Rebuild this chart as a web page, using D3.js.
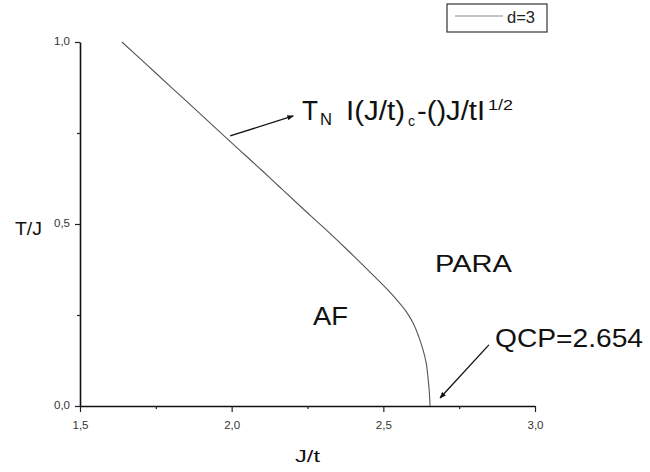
<!DOCTYPE html>
<html>
<head>
<meta charset="utf-8">
<script src="https://cdn.jsdelivr.net/npm/d3@7"></script>
<style>
  html, body { margin: 0; padding: 0; background: #fff; }
  svg { display: block; font-family: "Liberation Sans", Arial, sans-serif; }
</style>
</head>
<body>
<svg id="chart" width="650" height="472"></svg>
<script>
// Néel temperature boundary T_N(J/t) for d=3
const jt = [1.638, 1.70, 1.80, 1.90, 2.00, 2.10, 2.159, 2.23, 2.301, 2.38, 2.456, 2.51, 2.545, 2.575, 2.598, 2.617, 2.631, 2.642, 2.647, 2.651, 2.654];
const tj = [1.000, 0.953, 0.876, 0.800, 0.723, 0.647, 0.601, 0.546, 0.492, 0.430, 0.368, 0.323, 0.291, 0.260, 0.228, 0.190, 0.154, 0.115, 0.080, 0.045, 0.000];

const xTicks = [1.5, 2.0, 2.5, 3.0];
const xMinor = [1.75, 2.25, 2.75];
const yTicks = [0.0, 0.5, 1.0];
const yMinor = [0.25, 0.75];
const qcp = 2.654;
const seriesName = "d=3";

const fmt = d => d3.format(".1f")(d).replace(".", ",");

const svg = d3.select("#chart");
const x = d3.scaleLinear().domain([1.5, 3.0]).range([80, 535]);
const y = d3.scaleLinear().domain([0, 1]).range([406, 42]);

// axes
const xAxis = svg.append("g").attr("transform", `translate(0,${y(0)})`)
  .call(d3.axisBottom(x).tickValues(xTicks).tickFormat(fmt).tickSize(6).tickSizeOuter(0));
svg.append("g").attr("transform", `translate(0,${y(0)})`)
  .call(d3.axisBottom(x).tickValues(xMinor).tickFormat("").tickSize(3).tickSizeOuter(0))
  .select(".domain").remove();
const yAxis = svg.append("g").attr("transform", `translate(${x(1.5)},0)`)
  .call(d3.axisLeft(y).tickValues(yTicks).tickFormat(fmt).tickSize(5).tickSizeOuter(0));
svg.append("g").attr("transform", `translate(${x(1.5)},0)`)
  .call(d3.axisLeft(y).tickValues(yMinor).tickFormat("").tickSize(3).tickSizeOuter(0))
  .select(".domain").remove();

svg.selectAll(".domain").attr("stroke", "#111").attr("stroke-width", 1.6);
svg.selectAll(".tick line").attr("stroke", "#222").attr("stroke-width", 1.2);
svg.selectAll(".tick text").attr("fill", "#333").style("font-size", "11.5px")
  .style("font-family", "'Liberation Sans', Arial, sans-serif");
xAxis.selectAll(".tick text").attr("dy", "1.2em");
yAxis.selectAll(".tick text").attr("x", -10).attr("dy", "0.25em");

// phase boundary curve
const line = d3.line().x((d, i) => x(jt[i])).y((d, i) => y(tj[i])).curve(d3.curveMonotoneY);
svg.append("path").datum(jt).attr("d", line)
  .attr("fill", "none").attr("stroke", "#555").attr("stroke-width", 1.1);

// text helper: font size from cap height, width fitted with textLength
function label(parent, txt, px, py, size, len) {
  const t = parent.append("text").attr("x", px).attr("y", py)
    .style("font-size", size + "px").attr("fill", "#111").text(txt);
  if (len) t.attr("textLength", len).attr("lengthAdjust", "spacingAndGlyphs");
  return t;
}

// axis titles
label(svg, "J/t", 295, 462, 17, 25);
label(svg, "T/J", 15, 235, 18, 27);

// region labels
label(svg, "PARA", 435, 272, 24, 77);
label(svg, "AF", 313, 325, 25, 35);
label(svg, "QCP=" + d3.format(".3f")(qcp), 495, 347, 26, 148);

// T_N scaling annotation
const ann = svg.append("g");
label(ann, "T", 302, 120, 27, 16);
label(ann, "N", 320, 125, 16, 12);
label(ann, "I(J/t)", 346, 120, 27, 59);
label(ann, "c", 408, 126, 15, 7);
label(ann, "-()J/tI", 417, 120, 27, 68);
label(ann, "1/2", 488, 110, 15, 25);

// arrows
const defs = svg.append("defs");
defs.append("marker").attr("id", "ah").attr("viewBox", "0 0 10 10").attr("refX", 9).attr("refY", 5)
  .attr("markerWidth", 5).attr("markerHeight", 5).attr("orient", "auto")
  .append("path").attr("d", "M0,1 L10,5 L0,9 Z").attr("fill", "#111");
svg.append("line").attr("x1", x(1.995)).attr("y1", y(0.742)).attr("x2", x(2.203)).attr("y2", y(0.797))
  .attr("stroke", "#111").attr("stroke-width", 1.3).attr("marker-end", "url(#ah)");
svg.append("line").attr("x1", x(2.848)).attr("y1", y(0.168)).attr("x2", x(2.687)).attr("y2", y(0.022))
  .attr("stroke", "#111").attr("stroke-width", 1.3).attr("marker-end", "url(#ah)");

// legend
const lg = svg.append("g");
lg.append("rect").attr("x", 447).attr("y", 4).attr("width", 100).attr("height", 28)
  .attr("fill", "#fff").attr("stroke", "#333").attr("stroke-width", 1.2);
lg.append("line").attr("x1", 455).attr("x2", 503).attr("y1", 16).attr("y2", 16)
  .attr("stroke", "#888").attr("stroke-width", 1);
label(lg, seriesName, 507, 23, 16, 28).attr("fill", "#222");
</script>
</body>
</html>
